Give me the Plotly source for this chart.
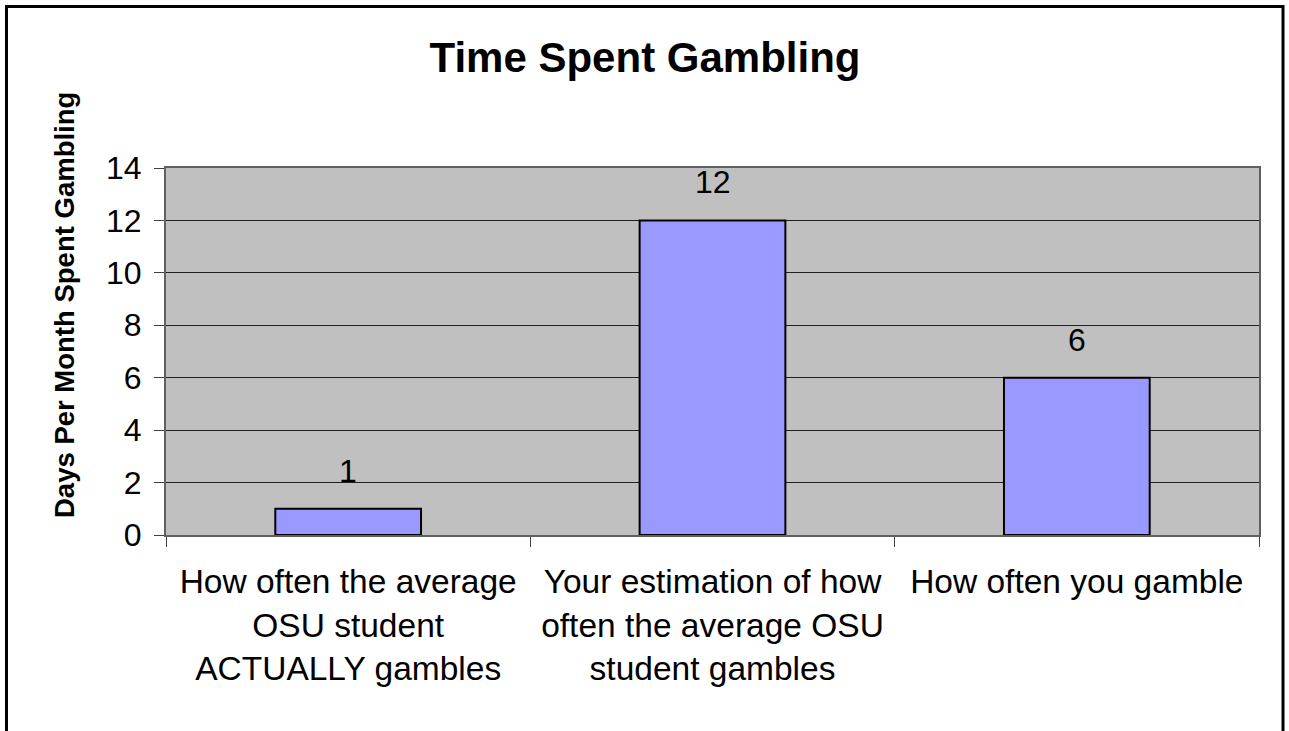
import plotly.graph_objects as go

categories = [
    "How often the average<br>OSU student<br>ACTUALLY gambles",
    "Your estimation of how<br>often the average OSU<br>student gambles",
    "How often you gamble",
]
values = [1, 12, 6]
y_ticks = [0, 2, 4, 6, 8, 10, 12, 14]

W, H = 1289, 731
ML, MR, MT, MB = 166, 30, 168, 196
PW = W - ML - MR
PH = H - MT - MB

def px_x(px):
    return (px - ML) / PW

def px_y(py):
    return (H - MB - py) / PH

FONT = "Liberation Sans, Arial, sans-serif"

fig = go.Figure()
fig.add_trace(go.Bar(
    x=categories, y=values,
    marker=dict(color="#9999FF", line=dict(color="black", width=2)),
    width=0.4,
))

for c, v in zip(categories, values):
    fig.add_annotation(x=c, y=v, text=str(v), showarrow=False,
                       yanchor="bottom", yshift=18,
                       font=dict(family=FONT, size=32, color="black"))

# y axis title
fig.add_annotation(xref="paper", yref="paper", x=px_x(64), y=px_y(305),
                   text="<b>Days Per Month Spent Gambling</b>", textangle=-90,
                   showarrow=False, xanchor="center", yanchor="middle",
                   font=dict(family=FONT, size=27.5, color="black"))

# outer frame
fig.add_shape(type="rect", xref="paper", yref="paper",
              x0=px_x(6.5), x1=px_x(1283), y0=px_y(760), y1=px_y(6.5),
              line=dict(color="black", width=3), layer="below")

fig.update_layout(
    width=W, height=H,
    margin=dict(l=ML, r=MR, t=MT, b=MB),
    paper_bgcolor="white",
    plot_bgcolor="#C0C0C0",
    showlegend=False,
    title=dict(text="<b>Time Spent Gambling</b>", x=(645) / W, xanchor="center",
               y=1 - 57 / H, yanchor="middle", yref="container",
               font=dict(family=FONT, size=42, color="black")),
    font=dict(family=FONT, size=32, color="black"),
    xaxis=dict(
        type="category", tickson="boundaries", ticks="outside", ticklen=10,
        tickcolor="#404040", tickwidth=1,
        showgrid=False, showline=True, linecolor="#606060", linewidth=2, mirror=True,
        tickfont=dict(family=FONT, size=33.5, color="black"),
        ticklabelstandoff=16,
    ),
    yaxis=dict(
        range=[0, 14], tickvals=y_ticks, ticktext=[str(t) for t in y_ticks],
        ticks="outside", ticklen=10, tickcolor="#404040", tickwidth=1,
        showgrid=True, gridcolor="#222222", gridwidth=1, zeroline=False,
        showline=True, linecolor="#606060", linewidth=2, mirror=True,
        tickfont=dict(family=FONT, size=32, color="black"),
        ticklabelstandoff=6,
    ),
)

fig.write_html("out.html")
